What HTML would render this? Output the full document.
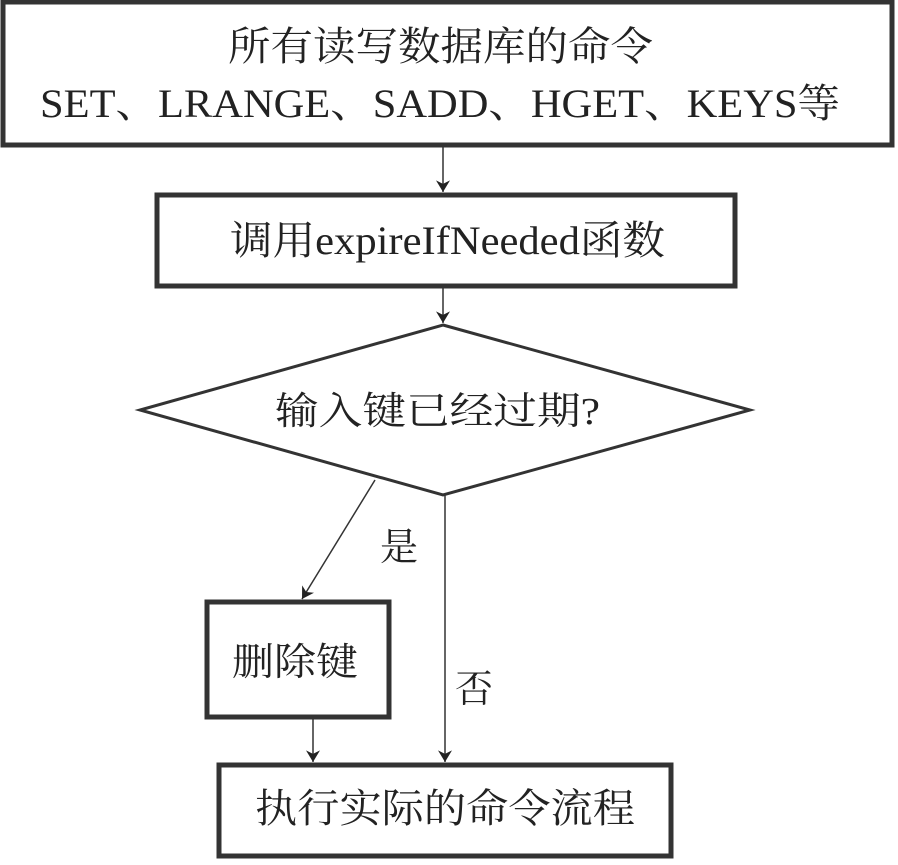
<!DOCTYPE html>
<html><head><meta charset="utf-8"><style>
body{margin:0;background:#fff;}
svg text{font-family:"Liberation Serif","Noto Serif CJK SC",serif;fill:#222;}
</style></head><body>
<svg width="898" height="860" viewBox="0 0 898 860" xmlns="http://www.w3.org/2000/svg">
<defs><marker id="b" viewBox="0 0 10 12" markerWidth="12" markerHeight="14" refX="10" refY="6" orient="auto" markerUnits="userSpaceOnUse"><path d="M0,0 L10,6 L0,12 L3,6 Z" fill="#222"/></marker></defs>
<g stroke="#333" stroke-width="5" fill="#fff">
<rect x="3" y="2" width="889" height="143"/>
<rect x="157" y="195" width="578" height="91"/>
<polygon points="443,325 750,410 443,495 140,410" stroke-width="3"/>
<rect x="207" y="602" width="182" height="115"/>
<rect x="219" y="765" width="452" height="91"/>
</g>
<g stroke="#333" stroke-width="1.5" fill="none">
<line x1="443" y1="147" x2="443" y2="192" marker-end="url(#b)"/>
<line x1="443" y1="288" x2="443" y2="323" marker-end="url(#b)"/>
<line x1="375" y1="480" x2="302" y2="599" marker-end="url(#b)"/>
<line x1="445" y1="495" x2="445" y2="762" marker-end="url(#b)"/>
<line x1="313" y1="719" x2="313" y2="762" marker-end="url(#b)"/>
</g>
<text x="228" y="60" font-size="40" textLength="425" lengthAdjust="spacingAndGlyphs">所有读写数据库的命令</text>
<text x="40" y="117" font-size="40" textLength="800" lengthAdjust="spacingAndGlyphs">SET、LRANGE、SADD、HGET、KEYS等</text>
<text x="230" y="254" font-size="40" textLength="435" lengthAdjust="spacingAndGlyphs">调用expireIfNeeded函数</text>
<text x="275" y="424" font-size="38" textLength="325" lengthAdjust="spacingAndGlyphs">输入键已经过期?</text>
<text x="380" y="560" font-size="38">是</text>
<text x="232" y="675" font-size="38" textLength="126" lengthAdjust="spacingAndGlyphs">删除键</text>
<text x="455" y="702" font-size="38">否</text>
<text x="255" y="822" font-size="40" textLength="380" lengthAdjust="spacingAndGlyphs">执行实际的命令流程</text>
</svg>
</body></html>
